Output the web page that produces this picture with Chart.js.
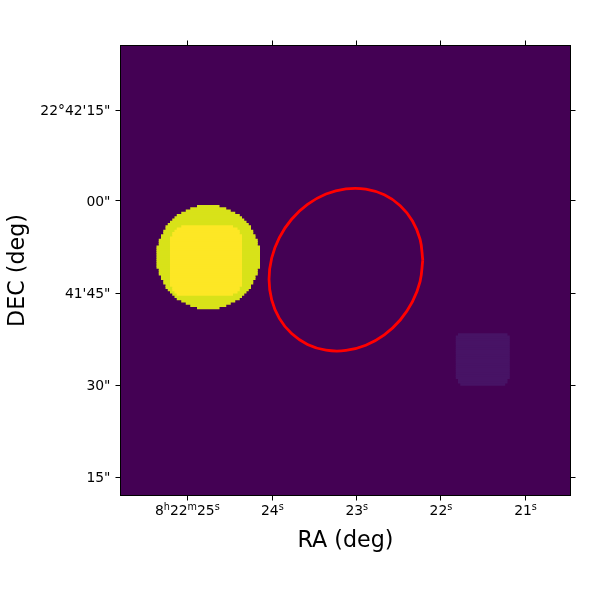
<!DOCTYPE html>
<html>
<head>
<meta charset="utf-8">
<style>
  html, body { margin: 0; padding: 0; background: #fff; }
  canvas { display: block; }
</style>
<script src="https://cdn.jsdelivr.net/npm/chart.js@4"></script>
</head>
<body>
<canvas id="chart" width="600" height="600"></canvas>
<script>
// image is 200x200 cells, rows counted from the bottom
const xTickPos = [29.7, 67.5, 105.0, 142.4, 180.0];
const xTickLabels = ['8h22m25s', '24s', '23s', '22s', '21s'];
const yTickPos = [171.3, 130.9, 90.0, 49.1, 8.2];
const yTickLabels = ['22°42\'15"', '00"', '41\'45"', '30"', '15"'];

// left / right edge of every row
const diskFirstRow = 83;
const diskLeft = [34, 31, 29, 27, 25, 24, 23, 22, 21, 20, 20, 19, 19, 18, 18, 17, 17, 17, 16, 16, 16, 16, 16,
                  16, 16, 16, 16, 16, 17, 17, 17, 18, 18, 19, 19, 20, 20, 21, 22, 23, 24, 25, 27, 29, 31, 34];
const diskRight = [44, 47, 49, 51, 53, 54, 55, 56, 57, 58, 58, 59, 59, 60, 60, 61, 61, 61, 62, 62, 62, 62, 62,
                   62, 62, 62, 62, 62, 61, 61, 61, 60, 60, 59, 59, 58, 58, 57, 56, 55, 54, 53, 51, 49, 47, 44];

const coreFirstRow = 89;
const coreLeft = [25, 24, 23, 23, 22, 22, 22, 22, 22, 22, 22, 22, 22, 22, 22,
                  22, 22, 22, 22, 22, 22, 22, 22, 22, 22, 22, 23, 23, 24, 25, 27];
const coreRight = [50, 52, 53, 53, 54, 54, 54, 54, 54, 54, 54, 54, 54, 54, 54,
                   54, 54, 54, 54, 54, 54, 54, 54, 54, 54, 54, 54, 53, 53, 52, 50];

const faintFirstRow = 49;
const faintLeft = [151, 150, 150, 149, 149, 149, 149, 149, 149, 149, 149, 149,
                   149, 149, 149, 149, 149, 149, 149, 149, 149, 149, 150];
const faintRight = [171, 172, 172, 173, 173, 173, 173, 173, 173, 173, 173, 173,
                    173, 173, 173, 173, 173, 173, 173, 173, 173, 173, 172];

// red region outline
const ellipseX = [134.34, 133.16, 129.76, 124.32, 117.24, 109.02, 100.18, 91.34, 83.12, 76.04, 70.60, 67.20, 66.02,
                  67.20, 70.60, 76.04, 83.12, 91.34, 100.18, 109.02, 117.24, 124.32, 129.76, 133.16, 134.34];
const ellipseY = [104.64, 95.20, 86.12, 78.00, 71.40, 66.78, 64.46, 64.58, 67.14, 71.96, 78.72, 86.96, 96.12,
                  105.56, 114.64, 122.78, 129.36, 133.98, 136.28, 136.18, 133.62, 128.80, 122.02, 113.80, 104.64];

const FONT = '"DejaVu Sans"';

const rowBars = (first, left, right) => left.map((l, i) => ({ x: [l, right[i]], y: first + i + 0.5 }));

// bars overlap a little so no seams show between the rows
const barSet = (data, color, order) => ({
    type: 'bar',
    indexAxis: 'y',
    data,
    backgroundColor: color,
    borderWidth: 0,
    inflateAmount: 0,
    barThickness: 3,
    grouped: false,
    xAxisID: 'x',
    yAxisID: 'y',
    order
});

// image background
const background = {
    id: 'background',
    beforeDatasetsDraw(chart) {
        const { ctx, chartArea: a } = chart;
        ctx.save();
        ctx.fillStyle = '#440154';
        ctx.fillRect(a.left, a.top, a.right - a.left, a.bottom - a.top);
        ctx.restore();
    }
};

// RA labels have superscript units, the axis cannot do mixed sizes
const raLabels = {
    id: 'raLabels',
    afterDraw(chart) {
        const { ctx, scales: { x } } = chart;
        const big = `13.9px ${FONT}`;
        const small = `9.7px ${FONT}`;
        ctx.save();
        ctx.fillStyle = '#000';
        ctx.textBaseline = 'alphabetic';
        ctx.textAlign = 'left';
        xTickLabels.forEach((label, i) => {
            const parts = [...label.matchAll(/(\d+)([hms])/g)];
            let width = 0;
            parts.forEach(p => {
                ctx.font = big;
                width += ctx.measureText(p[1]).width;
                ctx.font = small;
                width += ctx.measureText(p[2]).width;
            });
            let px = x.getPixelForValue(xTickPos[i]) - width / 2;
            parts.forEach(p => {
                ctx.font = big;
                ctx.fillText(p[1], px, 515);
                px += ctx.measureText(p[1]).width;
                ctx.font = small;
                ctx.fillText(p[2], px, 510);
                px += ctx.measureText(p[2]).width;
            });
        });
        ctx.restore();
    }
};

const axis = (ticksPos, labels, size, extra) => ({
    type: 'linear',
    min: 0,
    max: 200,
    offset: false,
    afterBuildTicks: (s) => { s.ticks = ticksPos.map(v => ({ value: v })); },
    afterFit: (s) => { if (s.isHorizontal()) s.height = size; else s.width = size; },
    grid: {
        offset: false,
        drawOnChartArea: false,
        drawTicks: true,
        tickLength: 5,
        tickWidth: 1,
        tickColor: '#000',
        color: '#000'
    },
    border: { display: true, color: '#000', width: 1, z: 1 },
    ticks: {
        display: !!labels,
        autoSkip: false,
        maxRotation: 0,
        minRotation: 0,
        padding: 5,
        labelOffset: 1,
        color: '#000',
        font: { family: FONT, size: 13.9 },
        callback: (v, i) => labels ? labels[i] : ''
    },
    ...extra
});

new Chart(document.getElementById('chart'), {
    data: {
        datasets: [
            {
                type: 'scatter',
                data: ellipseX.map((x, i) => ({ x, y: ellipseY[i] })),
                showLine: true,
                borderColor: '#ff0000',
                borderWidth: 2.8,
                tension: 0.4,
                pointRadius: 0,
                fill: false,
                xAxisID: 'x',
                yAxisID: 'y',
                order: 0
            },
            barSet(rowBars(coreFirstRow, coreLeft, coreRight), '#fde725', 1),
            barSet(rowBars(diskFirstRow, diskLeft, diskRight), '#d8e219', 2),
            barSet(rowBars(faintFirstRow, faintLeft, faintRight), '#471365', 3)
        ]
    },
    options: {
        responsive: false,
        animation: false,
        layout: { padding: 0 },
        plugins: { legend: { display: false }, tooltip: { enabled: false } },
        scales: {
            x: axis(xTickPos, null, 104.5, {
                position: 'bottom',
                title: {
                    display: true,
                    text: 'RA (deg)',
                    color: '#000',
                    font: { family: FONT, size: 22.2 },
                    padding: { top: 0, bottom: 45 }
                }
            }),
            y: axis(yTickPos, yTickLabels, 120.5, {
                position: 'left',
                title: {
                    display: true,
                    text: 'DEC (deg)',
                    color: '#000',
                    font: { family: FONT, size: 22.2 },
                    padding: { top: 5, bottom: 0 }
                }
            }),
            xTop: axis(xTickPos, null, 45.5, { position: 'top' }),
            yRight: axis(yTickPos, null, 29.5, { position: 'right' })
        }
    },
    plugins: [background, raLabels]
});
</script>
</body>
</html>
